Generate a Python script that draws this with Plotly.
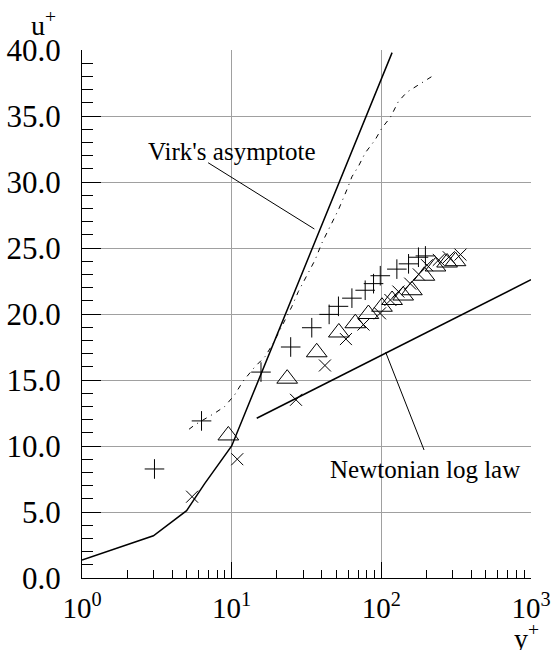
import numpy as np
import plotly.graph_objects as go

# ---- data ----
# solid curve: viscous sublayer + Virk's asymptote
solid_x = [1.0, 3.0, 5.0, 6.6, 10.0, 118.0]
solid_y = [1.36, 3.2, 5.1, 7.15, 10.0, 39.8]

# Newtonian log law
loglaw_x = [14.7, 1000.0]
loglaw_y = [12.1, 22.6]

# dash-dot experimental profile
dash_x = [5.19, 5.67, 7.73, 9.0, 10.5, 11.9, 14.3, 16.7, 19.0, 21.6, 25.2, 27.9, 31.7,
          36.1, 40.0, 45.5, 51.7, 58.8, 63.6, 70.4, 78.0, 91.0, 101.0, 115.0, 130.0,
          148.0, 173.0, 218.0]
dash_y = [11.27, 11.6, 12.5, 13.0, 13.9, 14.9, 16.0, 16.77, 17.8, 19.0, 20.55, 21.7, 22.95,
          24.1, 25.36, 26.6, 27.9, 29.4, 30.4, 31.2, 32.2, 33.2, 34.1, 34.9, 36.1,
          36.8, 37.3, 38.0]

# plus markers
plus_x = [3.05, 6.29, 15.7, 24.8, 34.3, 44.8, 51.7, 63.6, 78.0, 88.7, 98.4, 127.0, 152.0, 177.0, 197.0]
plus_y = [8.26, 11.9, 15.6, 17.5, 18.96, 19.97, 20.58, 21.2, 21.8, 22.3, 22.9, 23.4, 23.8, 24.3, 24.4]

# triangle markers
tri_x = [9.5, 23.5, 37.0, 52.0, 67.0, 82.0, 101.0, 118.0, 140.0, 160.0, 194.0, 230.0, 275.0, 313.0]
tri_y = [10.8, 15.1, 17.1, 18.6, 19.3, 20.0, 20.55, 21.06, 21.4, 21.8, 22.9, 23.6, 23.9, 24.0]

# cross markers
cross_x = [5.44, 10.9, 26.9, 42.0, 58.0, 76.0, 98.0, 115.0, 130.0, 156.0, 178.0, 202.0, 242.0, 282.0, 338.0]
cross_y = [6.16, 9.0, 13.5, 16.1, 18.1, 19.2, 20.05, 21.06, 21.7, 22.3, 23.0, 23.7, 24.1, 24.3, 24.5]

# labels and leader lines (from label to curve)
virk_label = "Virk's asymptote"
virk_label_pos = (10.1, 32.3)
virk_leader_x = [6.96, 35.7]
virk_leader_y = [31.46, 26.44]

newt_label = "Newtonian log law"
newt_label_pos = (196.0, 8.2)
newt_leader_x = [192.9, 106.9]
newt_leader_y = [9.7, 17.1]

x_tickvals = [1, 10, 100, 1000]
x_ticktext = ["10<sup>0</sup>", "10<sup>1</sup>", "10<sup>2</sup>", "10<sup>3</sup>"]
x_minor = [m * d for d in (1, 10, 100) for m in range(2, 10)]
y_tickvals = [0, 5, 10, 15, 20, 25, 30, 35, 40]
y_ticktext = [f"{v:.1f}" for v in y_tickvals]

SERIF = "Liberation Serif"

fig = go.Figure()
fig.add_trace(go.Scatter(x=solid_x, y=solid_y, mode="lines",
                         line=dict(color="black", width=1.5), showlegend=False))
fig.add_trace(go.Scatter(x=loglaw_x, y=loglaw_y, mode="lines",
                         line=dict(color="black", width=1.5), showlegend=False))
fig.add_trace(go.Scatter(x=dash_x, y=dash_y, mode="lines",
                         line=dict(color="black", width=1, dash="5px,5px,1px,5px"),
                         showlegend=False))
fig.add_trace(go.Scatter(x=virk_leader_x, y=virk_leader_y, mode="lines",
                         line=dict(color="black", width=1), showlegend=False))
fig.add_trace(go.Scatter(x=newt_leader_x, y=newt_leader_y, mode="lines",
                         line=dict(color="black", width=1), showlegend=False))
fig.add_trace(go.Scatter(x=plus_x, y=plus_y, mode="markers",
                         marker=dict(symbol="cross-thin-open", size=14, color="black",
                                     line=dict(color="black", width=1)),
                         showlegend=False))
fig.add_trace(go.Scatter(x=tri_x, y=tri_y, mode="markers",
                         marker=dict(symbol="triangle-up-open", size=18, color="black",
                                     line=dict(color="black", width=1)),
                         showlegend=False))
fig.add_trace(go.Scatter(x=cross_x, y=cross_y, mode="markers",
                         marker=dict(symbol="x-thin-open", size=12, color="black",
                                     line=dict(color="black", width=1)),
                         showlegend=False))

fig.add_annotation(x=np.log10(virk_label_pos[0]), y=virk_label_pos[1], xref="x", yref="y",
                   xanchor="center", yanchor="middle",
                   text=virk_label, showarrow=False, font=dict(family=SERIF, size=25, color="black"))
fig.add_annotation(x=np.log10(newt_label_pos[0]), y=newt_label_pos[1], xref="x", yref="y",
                   xanchor="center", yanchor="middle",
                   text=newt_label, showarrow=False, font=dict(family=SERIF, size=25, color="black"))
fig.add_annotation(x=-0.085, y=1.05, xref="paper", yref="paper", text="u<sup>+</sup>",
                   xanchor="center", yanchor="middle",
                   showarrow=False, font=dict(family=SERIF, size=28, color="black"))
fig.add_annotation(x=0.99, y=-0.11, xref="paper", yref="paper", text="y<sup>+</sup>",
                   xanchor="center", yanchor="middle",
                   showarrow=False, font=dict(family=SERIF, size=28, color="black"))

fig.update_xaxes(type="log", range=[0, 3], tickmode="array", tickvals=x_tickvals, ticktext=x_ticktext,
                 ticks="inside", ticklen=16, tickcolor="black", tickwidth=1,
                 showline=True, linecolor="black", linewidth=1, automargin=False,
                 showgrid=True, gridcolor="#a0a0a0", gridwidth=1, zeroline=False,
                 tickfont=dict(family=SERIF, size=29, color="black"), ticklabelstandoff=4,
                 minor=dict(tickmode="array", tickvals=x_minor, ticks="inside", ticklen=8,
                            tickcolor="black", showgrid=False))
fig.update_yaxes(range=[0, 40], tickmode="array", tickvals=y_tickvals, ticktext=y_ticktext,
                 ticks="inside", ticklen=19, tickcolor="black", tickwidth=1,
                 showline=True, linecolor="black", linewidth=1, automargin=False,
                 showgrid=True, gridcolor="#a0a0a0", gridwidth=1, zeroline=False,
                 tickfont=dict(family=SERIF, size=31, color="black"), ticklabelstandoff=14,
                 minor=dict(dtick=1, ticks="inside", ticklen=11, tickcolor="black", showgrid=False))

fig.update_layout(width=554, height=650, margin=dict(l=82, r=23, t=50, b=72),
                  paper_bgcolor="white", plot_bgcolor="white", showlegend=False)

fig.write_html("out.html")
